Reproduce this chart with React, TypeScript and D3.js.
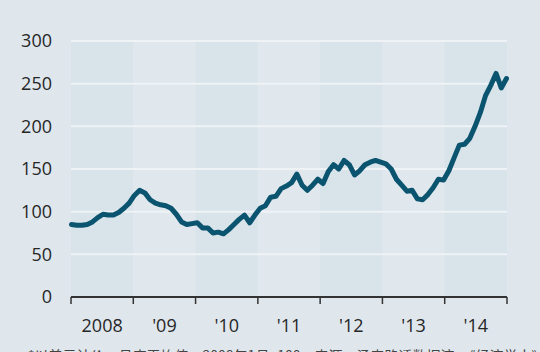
import React from "react";
import * as d3 from "d3";

const years = ["2008", "'09", "'10", "'11", "'12", "'13", "'14"];
const yTicks = [0, 50, 100, 150, 200, 250, 300];
// Monthly values, Jan 2008 – Dec 2014
const values = [
  85, 84, 84, 85, 88, 93, 97, 96, 96, 99, 104, 110,
  119, 125, 122, 114, 110, 108, 107, 104, 97, 88, 85, 86,
  87, 81, 81, 75, 76, 74, 79, 85, 91, 96, 87, 96,
  104, 107, 117, 118, 127, 130, 134, 144, 131, 125, 131, 138,
  133, 147, 155, 150, 160, 155, 143, 148, 155, 158, 160, 158,
  156, 150, 138, 131, 124, 125, 115, 114, 120, 128, 138, 137,
  148, 163, 178, 179, 186, 200, 216, 236, 248, 262, 245, 256,
];
const note = "*以美元计价，月度平均值；2008年1月=100　来源：汤森路透数据流；《经济学人》";

const W = 540;
const H = 352;
const left = 71;
const right = 507;
const top = 41;
const bottom = 297;

export default function App() {
  const yearScale = d3.scaleLinear().domain([0, years.length]).range([left, right]);
  const x = d3.scaleLinear().domain([0, values.length - 1]).range([left + 0.5, right - 0.5]);
  const y = d3.scaleLinear().domain([0, 300]).range([bottom, top]);
  const line = d3
    .line<number>()
    .x((_, i) => x(i))
    .y((d) => y(d))
    .curve(d3.curveLinear);

  return (
    <svg
      width={W}
      height={H}
      style={{ position: "fixed", left: 0, top: 0, display: "block" }}
      fontFamily="'Open Sans', 'Noto Sans', sans-serif"
    >
      <rect width={W} height={H} fill="#dfe7ed" />
      {years.map((yr, i) => (
        <rect
          key={yr}
          x={yearScale(i)}
          y={top}
          width={yearScale(i + 1) - yearScale(i)}
          height={bottom - top}
          fill={i % 2 === 0 ? "#d8e3ea" : "#e0e8ee"}
        />
      ))}
      {yTicks
        .filter((t) => t > 0)
        .map((t) => (
          <line
            key={t}
            x1={left}
            x2={right}
            y1={y(t)}
            y2={y(t)}
            stroke="#eff3f6"
            strokeWidth={2}
          />
        ))}
      {yTicks.map((t) => (
        <text
          key={t}
          x={52}
          y={y(t)}
          dy="0.36em"
          textAnchor="end"
          fontSize={18}
          fill="#262626"
        >
          {t}
        </text>
      ))}
      <path
        d={line(values) || ""}
        fill="none"
        stroke="#0b5470"
        strokeWidth={5}
        strokeLinejoin="round"
        strokeLinecap="round"
      />
      <line x1={left} x2={right} y1={bottom} y2={bottom} stroke="#333" strokeWidth={2} />
      {d3.range(years.length + 1).map((i) => (
        <line
          key={i}
          x1={yearScale(i)}
          x2={yearScale(i)}
          y1={bottom}
          y2={bottom + 7}
          stroke="#333"
          strokeWidth={1.5}
        />
      ))}
      {years.map((yr, i) => (
        <text
          key={yr}
          x={(yearScale(i) + yearScale(i + 1)) / 2}
          y={332}
          textAnchor="middle"
          fontSize={18}
          fill="#262626"
        >
          {yr}
        </text>
      ))}
      <text x={28} y={361} fontSize={14} fill="#444" fontFamily="'Noto Sans CJK SC', sans-serif">
        {note}
      </text>
    </svg>
  );
}
